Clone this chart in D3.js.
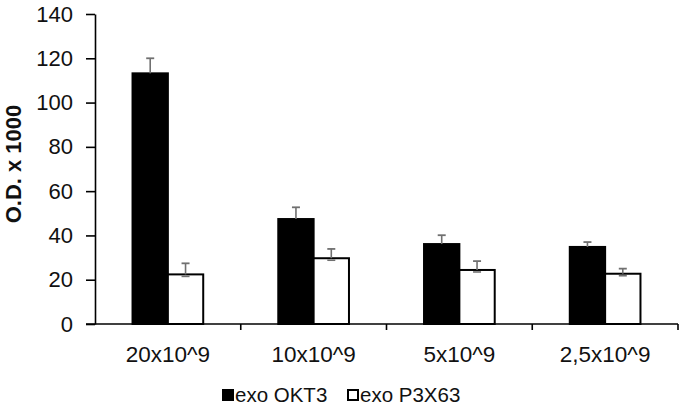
<!DOCTYPE html>
<html><head><meta charset="utf-8">
<script src="https://cdn.jsdelivr.net/npm/d3@7"></script>
<style>html,body{margin:0;padding:0;background:#fff;}svg{display:block;font-family:"Liberation Sans",Arial,sans-serif;}</style>
</head><body>
<script>
const categories = ["20x10^9", "10x10^9", "5x10^9", "2,5x10^9"];
const seriesNames = ["exo OKT3", "exo P3X63"];
const okt3 = [113.2, 47.4, 36.1, 34.8];
const okt3Err = [6.8, 5.3, 4.0, 2.2];
const p3x63 = [22.4, 29.7, 24.4, 22.7];
const p3x63Err = [5.0, 4.2, 4.0, 2.3];
const yTicks = [0, 20, 40, 60, 80, 100, 120, 140];

const W = 683, H = 407;
const svg = d3.select("body").append("svg").attr("width", W).attr("height", H);
const x = d3.scaleBand().domain(categories).range([95, 678]).padding(0);
const y = d3.scaleLinear().domain([0, 140]).range([324, 14]);
const groupW = x.bandwidth() * 0.485;
const x1 = d3.scaleBand().domain(seriesNames).range([0, groupW]).padding(0);

const data = categories.map((c, i) => ({
  cat: c,
  vals: [
    {s: seriesNames[0], v: okt3[i], e: okt3Err[i], fill: "#000"},
    {s: seriesNames[1], v: p3x63[i], e: p3x63Err[i], fill: "#fff"}
  ]
}));

// y axis
const yAxis = d3.axisLeft(y).tickValues(yTicks).tickSize(9).tickSizeOuter(0).tickPadding(13);
const ya = svg.append("g").attr("transform", "translate(95,0)").call(yAxis);
ya.select(".domain").attr("stroke", "#000").attr("stroke-width", 1.6);
ya.selectAll(".tick line").attr("stroke", "#000").attr("stroke-width", 1.6);
ya.selectAll(".tick text").attr("font-size", 22).attr("fill", "#111")
  .attr("font-family", "Liberation Sans, Arial, sans-serif");

// bars
const groups = svg.append("g").selectAll("g").data(data).join("g")
  .attr("transform", d => `translate(${x(d.cat) + (x.bandwidth() - groupW) / 2},0)`);

groups.selectAll("rect").data(d => d.vals).join("rect")
  .attr("x", d => x1(d.s))
  .attr("y", d => y(d.v))
  .attr("width", x1.bandwidth())
  .attr("height", d => y(0) - y(d.v))
  .attr("fill", d => d.fill)
  .attr("stroke", "#000").attr("stroke-width", 2);

// error bars
const eb = groups.selectAll("g.err").data(d => d.vals).join("g").attr("class", "err");
eb.append("line")
  .attr("x1", d => x1(d.s) + x1.bandwidth() / 2).attr("x2", d => x1(d.s) + x1.bandwidth() / 2)
  .attr("y1", d => y(d.v)).attr("y2", d => y(d.v + d.e))
  .attr("stroke", "#707070").attr("stroke-width", 1.6);
eb.append("line")
  .attr("x1", d => x1(d.s) + x1.bandwidth() / 2 - 4).attr("x2", d => x1(d.s) + x1.bandwidth() / 2 + 4)
  .attr("y1", d => y(d.v + d.e)).attr("y2", d => y(d.v + d.e))
  .attr("stroke", "#707070").attr("stroke-width", 1.8);
eb.filter(d => d.fill === "#fff").append("line")
  .attr("x1", d => x1(d.s) + x1.bandwidth() / 2 - 4).attr("x2", d => x1(d.s) + x1.bandwidth() / 2 + 4)
  .attr("y1", d => y(d.v) + 2).attr("y2", d => y(d.v) + 2)
  .attr("stroke", "#707070").attr("stroke-width", 1.6);

// x axis
const xg = svg.append("g");
xg.append("line").attr("x1", 86).attr("x2", 678).attr("y1", y(0)).attr("y2", y(0))
  .attr("stroke", "#000").attr("stroke-width", 1.6);
const bounds = categories.slice(1).map(c => x(c)).concat([x.range()[1]]);
xg.selectAll("line.t").data(bounds).join("line").attr("class", "t")
  .attr("x1", d => d).attr("x2", d => d).attr("y1", y(0)).attr("y2", y(0) + 6)
  .attr("stroke", "#000").attr("stroke-width", 1.6);
xg.selectAll("text").data(categories).join("text")
  .attr("x", d => x(d) + x.bandwidth() / 2).attr("y", 362)
  .attr("text-anchor", "middle").attr("font-size", 22.5).attr("fill", "#111")
  .text(d => d);

// y label
svg.append("text").attr("transform", "translate(21,164) rotate(-90)")
  .attr("text-anchor", "middle").attr("font-size", 22).attr("font-weight", "bold").attr("fill", "#111")
  .text("O.D. x 1000");

// legend
const legX = [222, 347];
const leg = svg.append("g").selectAll("g").data(seriesNames).join("g")
  .attr("transform", (d, i) => `translate(${legX[i]},0)`);
leg.append("rect").attr("x", 1).attr("y", 390).attr("width", 10).attr("height", 10)
  .attr("fill", (d, i) => i === 0 ? "#000" : "#fff").attr("stroke", "#000").attr("stroke-width", 2);
leg.append("text").attr("x", 13).attr("y", 402).attr("font-size", 20.5).attr("fill", "#111").text(d => d);
</script>
</body></html>
